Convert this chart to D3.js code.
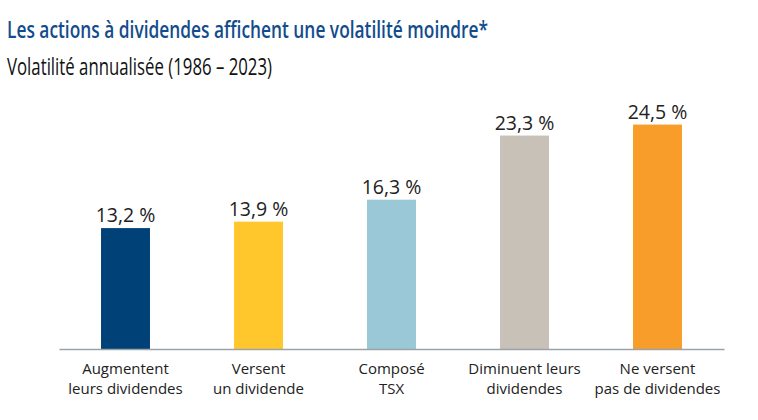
<!DOCTYPE html>
<html>
<head>
<meta charset="utf-8">
<script src="https://cdn.jsdelivr.net/npm/d3@7"></script>
<style>
  body { margin: 0; background: #fff; }
  text { font-family: "Open Sans", sans-serif; }
</style>
</head>
<body>
<div id="chart"></div>
<script>
// data
var categories = [
  ["Augmentent", "leurs dividendes"],
  ["Versent", "un dividende"],
  ["Composé", "TSX"],
  ["Diminuent leurs", "dividendes"],
  ["Ne versent", "pas de dividendes"]
];
var volatility = [13.2, 13.9, 16.3, 23.3, 24.5];
var barColors = ["#004178", "#ffc72c", "#9ac8d6", "#c8c1b8", "#f99d2a"];

var svgWidth = 758;
var svgHeight = 420;

var svg = d3.select("#chart")
  .append("svg")
  .attr("width", svgWidth)
  .attr("height", svgHeight);

// titles
svg.append("text")
  .attr("x", 7)
  .attr("y", 38)
  .attr("font-size", 23.5)
  .attr("font-weight", 600)
  .attr("fill", "#124c8c")
  .attr("textLength", 481)
  .attr("lengthAdjust", "spacingAndGlyphs")
  .text("Les actions à dividendes affichent une volatilité moindre*");

svg.append("text")
  .attr("x", 7)
  .attr("y", 75)
  .attr("font-size", 24)
  .attr("fill", "#111")
  .attr("textLength", 265)
  .attr("lengthAdjust", "spacingAndGlyphs")
  .text("Volatilité annualisée (1986 – 2023)");

// scales
var x = d3.scaleBand()
  .domain(d3.range(volatility.length))
  .range([59, 724])
  .paddingInner(0.632)
  .paddingOuter(0.316);

var y = d3.scaleLinear()
  .domain([0, 25])
  .range([349, 120]);

// bars
svg.selectAll("rect.bar")
  .data(volatility)
  .enter()
  .append("rect")
  .attr("class", "bar")
  .attr("x", (d, i) => x(i))
  .attr("y", d => y(d))
  .attr("width", x.bandwidth())
  .attr("height", d => y(0) - y(d))
  .attr("fill", (d, i) => barColors[i]);

// value labels
svg.selectAll("text.value")
  .data(volatility)
  .enter()
  .append("text")
  .attr("class", "value")
  .attr("x", (d, i) => x(i) + x.bandwidth() / 2)
  .attr("y", d => y(d) - 6)
  .attr("text-anchor", "middle")
  .attr("font-size", 19.5)
  .attr("fill", "#222")
  .text(d => d.toFixed(1).replace(".", ",") + " %");

// baseline
var bottomAxis = d3.axisBottom(x).tickSize(0).tickFormat("");
var xAxis = svg.append("g")
  .attr("transform", `translate(0, ${y(0)})`)
  .call(bottomAxis);
xAxis.select(".domain")
  .attr("stroke", "#9aa3a8")
  .attr("stroke-width", 1.5);

// category labels
var catGroup = svg.selectAll("g.cat")
  .data(categories)
  .enter()
  .append("g")
  .attr("class", "cat")
  .attr("transform", (d, i) => `translate(${x(i) + x.bandwidth() / 2}, 374)`);

catGroup.selectAll("text")
  .data(d => d)
  .enter()
  .append("text")
  .attr("y", (d, j) => j * 19.5)
  .attr("text-anchor", "middle")
  .attr("font-size", 15)
  .attr("fill", "#222")
  .text(d => d);
</script>
</body>
</html>
